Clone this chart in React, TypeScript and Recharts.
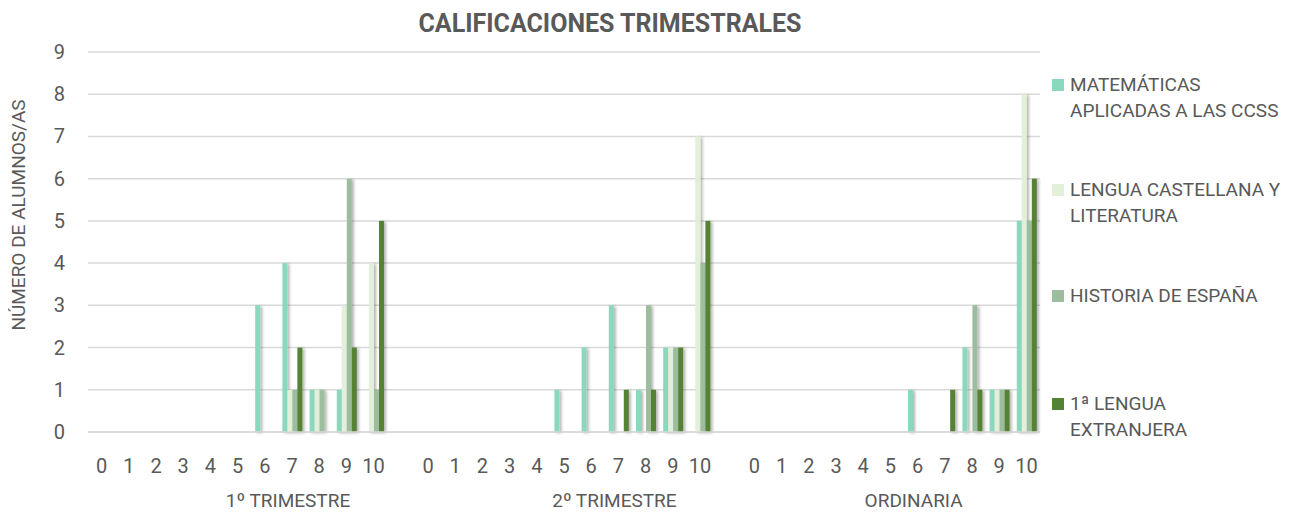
import { Bar, BarChart, CartesianGrid, XAxis, YAxis } from "recharts"

const grades = ["0", "1", "2", "3", "4", "5", "6", "7", "8", "9", "10"]
const periods = ["1º TRIMESTRE", "2º TRIMESTRE", "ORDINARIA"]
// category index (within the whole axis) where each period label sits
const periodLabelAt = [7, 19, 30]

const subjects = [
    "MATEMÁTICAS APLICADAS A LAS CCSS",
    "LENGUA CASTELLANA Y LITERATURA",
    "HISTORIA DE ESPAÑA",
    "1ª LENGUA EXTRANJERA",
]
const legendLines = [
    ["MATEMÁTICAS", "APLICADAS A LAS CCSS"],
    ["LENGUA CASTELLANA Y", "LITERATURA"],
    ["HISTORIA DE ESPAÑA"],
    ["1ª LENGUA", "EXTRANJERA"],
]
const colors = ["#8ad9bf", "#e2efd9", "#9dbe9e", "#548235"]

// one list per subject and period, grades 0..10
const mat1 = [0, 0, 0, 0, 0, 0, 3, 4, 1, 1, 0]
const mat2 = [0, 0, 0, 0, 0, 1, 2, 3, 1, 2, 0]
const mat3 = [0, 0, 0, 0, 0, 0, 1, 0, 2, 1, 5]
const len1 = [0, 0, 0, 0, 0, 0, 0, 1, 1, 3, 4]
const len2 = [0, 0, 0, 0, 0, 0, 0, 0, 0, 2, 7]
const len3 = [0, 0, 0, 0, 0, 0, 0, 0, 0, 1, 8]
const his1 = [0, 0, 0, 0, 0, 0, 0, 1, 1, 6, 1]
const his2 = [0, 0, 0, 0, 0, 0, 0, 0, 3, 2, 4]
const his3 = [0, 0, 0, 0, 0, 0, 0, 0, 3, 1, 5]
const ext1 = [0, 0, 0, 0, 0, 0, 0, 2, 0, 2, 5]
const ext2 = [0, 0, 0, 0, 0, 0, 0, 1, 1, 2, 5]
const ext3 = [0, 0, 0, 0, 0, 0, 0, 1, 1, 1, 6]

const yTicks = [0, 1, 2, 3, 4, 5, 6, 7, 8, 9]

const bySubject = [
    [mat1, mat2, mat3],
    [len1, len2, len3],
    [his1, his2, his3],
    [ext1, ext2, ext3],
]

// build rows, with one empty category between periods
const data: any[] = []
periods.forEach((p, pi) => {
    grades.forEach((g, gi) => {
        const row: any = { key: `${pi}-${g}`, grade: g, period: "" }
        bySubject.forEach((s, si) => {
            row["s" + si] = s[pi][gi]
        })
        data.push(row)
    })
    if (pi < periods.length - 1) data.push({ key: `gap${pi}`, grade: "", period: "" })
})
periodLabelAt.forEach((idx, pi) => {
    data[idx].period = periods[pi]
})

const textColor = "#595959"
const font = "Roboto, 'Noto Sans', sans-serif"

function ShadowBar(props: any) {
    const { x, y, width, height, fill } = props
    if (!height || height <= 0) return null
    return <rect x={x} y={y} width={width} height={height} fill={fill} filter="url(#barShadow)" />
}

function GradeTick({ x, y, payload }: any) {
    if (!payload.value) return null
    return (
        <text x={x} y={y} dy="0.35em" textAnchor="middle" fill={textColor} fontSize={20} fontFamily={font}>
            {payload.value}
        </text>
    )
}

function PeriodTick({ x, y, payload }: any) {
    if (!payload.value) return null
    return (
        <text x={x - 4} y={y} dy="0.35em" textAnchor="middle" fill={textColor} fontSize={19} fontFamily={font}>
            {payload.value}
        </text>
    )
}

function YTick({ x, y, payload }: any) {
    return (
        <text x={x} y={y} dy="0.35em" textAnchor="end" fill={textColor} fontSize={20} fontFamily={font}>
            {payload.value}
        </text>
    )
}

const legendTops = [85, 190, 296, 404]

export default function App() {
    return (
        <div style={{ position: "relative", width: 1282, height: 505, fontFamily: font, color: textColor }}>
            <svg width={0} height={0} style={{ position: "absolute" }}>
                <defs>
                    <filter id="barShadow" x="-60%" y="-10%" width="240%" height="130%">
                        <feDropShadow dx="2" dy="1" stdDeviation="1.6" floodColor="#000" floodOpacity="0.3" />
                    </filter>
                </defs>
            </svg>
            <div style={{
                position: "absolute", left: 0, width: 1204, top: 1, textAlign: "center",
                fontWeight: 700, fontSize: 25, lineHeight: "30px",
            }}>
                CALIFICACIONES TRIMESTRALES
            </div>
            <div style={{
                position: "absolute", left: 10, top: 207, transform: "translate(-50%, -50%) rotate(-90deg)",
                whiteSpace: "nowrap", fontSize: 19,
            }}>
                NÚMERO DE ALUMNOS/AS
            </div>
            <BarChart
                width={1282}
                height={505}
                data={data}
                margin={{ top: 44, right: 250, bottom: 0, left: 40 }}
                barGap={0}
                barSize={5}
            >
                <CartesianGrid vertical={false} stroke="#d9d9d9" strokeWidth={1.5} />
                <XAxis
                    dataKey="grade"
                    interval={0}
                    tickLine={false}
                    tickSize={0}
                    tickMargin={34}
                    height={50}
                    stroke="#d9d9d9"
                    strokeWidth={1.5}
                    tick={<GradeTick />}
                />
                <XAxis
                    xAxisId="period"
                    dataKey="period"
                    interval={0}
                    axisLine={false}
                    tickLine={false}
                    tickSize={0}
                    tickMargin={18}
                    height={31}
                    tick={<PeriodTick />}
                />
                <YAxis
                    domain={[0, 9]}
                    ticks={yTicks}
                    interval={0}
                    axisLine={false}
                    tickLine={false}
                    tickSize={0}
                    tickMargin={23}
                    width={40}
                    tick={<YTick />}
                />
                {subjects.map((s, i) => (
                    <Bar key={s} dataKey={"s" + i} name={s} fill={colors[i]} shape={<ShadowBar />} isAnimationActive={false} />
                ))}
            </BarChart>
            {subjects.map((s, i) => (
                <div key={s} style={{ position: "absolute", left: 1044, top: legendTops[i] - 8 - 13, display: "flex", alignItems: "flex-start" }}>
                    <div style={{ width: 12, height: 12, background: colors[i], marginTop: 7, marginRight: 6 }} />
                    <div style={{ fontSize: 19, lineHeight: "26px" }}>
                        {legendLines[i].map((l) => <div key={l}>{l}</div>)}
                    </div>
                </div>
            ))}
        </div>
    )
}
